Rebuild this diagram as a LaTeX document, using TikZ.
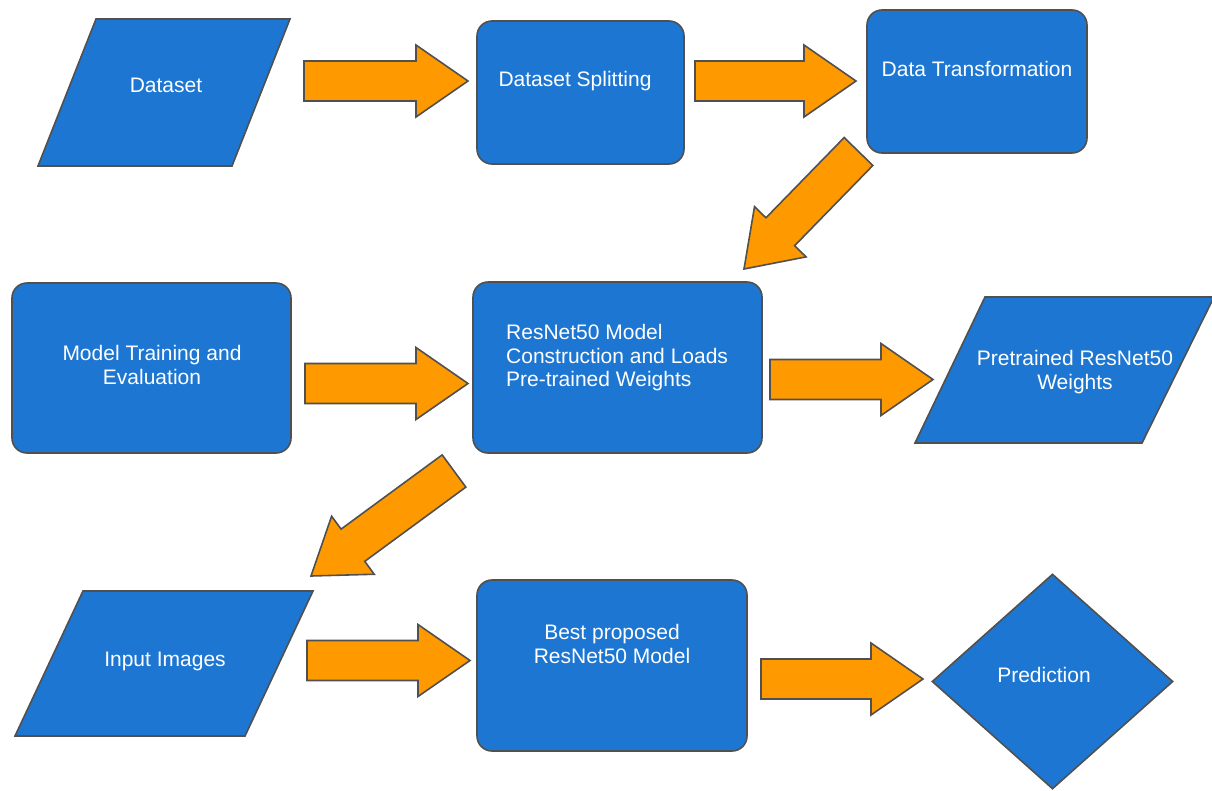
\documentclass[tikz,border=0pt]{standalone}
\usepackage{fontspec}
\setmainfont{Liberation Sans}
\usetikzlibrary{calc,shapes.geometric}
\definecolor{boxblue}{RGB}{28,118,210}
\definecolor{arrorange}{RGB}{255,153,0}
\definecolor{edgegray}{RGB}{80,80,80}
\def\bsw{20pt}\def\bhw{36pt}\def\bhl{52pt}
\newcommand\blockarrow[2]{%
  \coordinate (bah) at ($(#2)!\bhl!(#1)$);
  \draw[barrow] ($(#1)!\bsw!90:(#2)$) -- ($(bah)!\bsw!90:(#2)$) -- ($(bah)!\bhw!90:(#2)$) -- (#2)
    -- ($(bah)!\bhw!-90:(#2)$) -- ($(bah)!\bsw!-90:(#2)$) -- ($(#1)!\bsw!-90:(#2)$) -- cycle;
}
\begin{document}
\begin{tikzpicture}[x=1pt,y=-1pt,
  box/.style={draw=edgegray, line width=1.6pt, fill=boxblue, rounded corners=15pt, inner sep=0pt},
  para/.style={draw=edgegray, line width=1.6pt, fill=boxblue, line join=miter},
  lbl/.style={text=white, font=\fontsize{21}{23.5}\selectfont, align=center, inner sep=0pt},
  barrow/.style={draw=edgegray, line width=1.6pt, fill=arrorange, line join=miter}]
\useasboundingbox (0,0) rectangle (1212,790);

% parallelograms
\draw[para] (96,19) -- (290,19) -- (232,166) -- (38,166) -- cycle;
\node[lbl] (dataset) at (166,85) {Dataset};

\draw[para] (985,297) -- (1214,297) -- (1142,443) -- (915,443) -- cycle;
\node[lbl] (pretrained) at (1075,372) {Pretrained ResNet50\\Weights};

\draw[para] (83,591) -- (313,591) -- (245,736) -- (15,736) -- cycle;
\node[lbl] (input) at (165,661) {Input Images};

% rounded boxes
\node[box, minimum width=207pt, minimum height=143pt] (split) at (580.5,92.5) {};
\node[lbl] (splitt) at (575,81) {Dataset Splitting};

\node[box, minimum width=220pt, minimum height=143pt] (trans) at (977,81.5) {};
\node[lbl] (transt) at (977,69) {Data Transformation};

\node[box, minimum width=279pt, minimum height=170pt] (train) at (151.5,368) {};
\node[lbl] (traint) at (152,365) {Model Training and\\Evaluation};

\node[box, minimum width=289pt, minimum height=171pt] (resnet) at (617.5,367.5) {};
\node[lbl, align=left, anchor=west] (resnett) at (506,358) {ResNet50 Model\\Construction and Loads\\Pre-trained Weights};

\node[box, minimum width=270pt, minimum height=171pt] (best) at (612,665.5) {};
\node[lbl] (bestt) at (612,644) {Best proposed\\ResNet50 Model};

% diamond
\node[diamond, draw=edgegray, line width=1.6pt, fill=boxblue, inner sep=0pt,
      minimum width=241pt, minimum height=215pt] (pred) at (1052.5,681.5) {};
\node[lbl] (predt) at (1044,675) {Prediction};

% arrow end points
\coordinate (t1) at (304,81);    \coordinate (p1) at (468,81);
\coordinate (t2) at (695,81);    \coordinate (p2) at (856,81);
\coordinate (t3) at (858.5,151.5); \coordinate (p3) at (744,269);
\coordinate (t4) at (305,383.5); \coordinate (p4) at (468,383.5);
\coordinate (t5) at (770,379.5); \coordinate (p5) at (933,379.5);
\coordinate (t6) at (454,471);   \coordinate (p6) at (311,576);
\coordinate (t7) at (307,660.5); \coordinate (p7) at (470,660.5);
\coordinate (t8) at (761,679);   \coordinate (p8) at (923,679);

\blockarrow{t1}{p1}
\blockarrow{t2}{p2}
\blockarrow{t3}{p3}
\blockarrow{t4}{p4}
\blockarrow{t5}{p5}
\blockarrow{t6}{p6}
\blockarrow{t7}{p7}
\blockarrow{t8}{p8}
\end{tikzpicture}
\end{document}
